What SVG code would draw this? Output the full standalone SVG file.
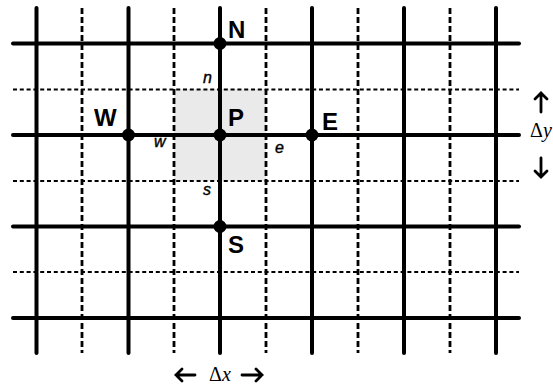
<svg xmlns="http://www.w3.org/2000/svg" width="553" height="390" viewBox="0 0 553 390">
<style>
.solid{stroke:#000;stroke-width:4;fill:none;stroke-linecap:round}
.dv{stroke:#000;stroke-width:2.8;fill:none;stroke-dasharray:6 3}
.dh{stroke:#000;stroke-width:2.2;fill:none;stroke-dasharray:4 2.8}
.big{font-family:"Liberation Sans",Arial,sans-serif;font-weight:bold;font-size:24px;fill:#000}
.face{font-family:"Liberation Sans",Arial,sans-serif;font-style:italic;font-size:16px;fill:#000;stroke:#000;stroke-width:0.4}
.delta{font-family:"Liberation Serif","Times New Roman",serif;font-size:20px;fill:#000}
.arr{stroke:#000;stroke-width:2.8;fill:none;stroke-linecap:round;stroke-linejoin:miter}
</style>
<rect x="0" y="0" width="553" height="390" fill="#fff"/>
<g id="control-volume">
<rect x="174" y="89" width="92" height="92" fill="#eaeaea"/>
</g>
<g id="connectors">
<g id="dashed-vertical">
<line class="dv" x1="82" y1="8" x2="82" y2="353"/>
<line class="dv" x1="174" y1="8" x2="174" y2="353"/>
<line class="dv" x1="266" y1="8" x2="266" y2="353"/>
<line class="dv" x1="358" y1="8" x2="358" y2="353"/>
<line class="dv" x1="450" y1="8" x2="450" y2="353"/>
</g>
<g id="dashed-horizontal">
<line class="dh" x1="13" y1="89.5" x2="519" y2="89.5"/>
<line class="dh" x1="13" y1="181" x2="519" y2="181"/>
<line class="dh" x1="13" y1="272" x2="519" y2="272"/>
</g>
<g id="solid-vertical">
<line class="solid" x1="36.5" y1="8" x2="36.5" y2="353"/>
<line class="solid" x1="128.5" y1="8" x2="128.5" y2="353"/>
<line class="solid" x1="220" y1="8" x2="220" y2="353"/>
<line class="solid" x1="312" y1="8" x2="312" y2="353"/>
<line class="solid" x1="404" y1="8" x2="404" y2="353"/>
<line class="solid" x1="496" y1="8" x2="496" y2="353"/>
</g>
<g id="solid-horizontal">
<line class="solid" x1="13" y1="43.5" x2="519" y2="43.5"/>
<line class="solid" x1="13" y1="135" x2="519" y2="135"/>
<line class="solid" x1="13" y1="226.5" x2="519" y2="226.5"/>
<line class="solid" x1="13" y1="318" x2="519" y2="318"/>
</g>
</g>
<g id="node-N"><circle cx="220" cy="43.5" r="6.5"/><text class="big" x="228" y="38">N</text></g>
<g id="node-W"><circle cx="128.5" cy="135" r="6.5"/><text class="big" x="94" y="126">W</text></g>
<g id="node-P"><circle cx="220" cy="135" r="6.5"/><text class="big" x="228" y="126">P</text></g>
<g id="node-E"><circle cx="312" cy="135" r="6.5"/><text class="big" x="322" y="130">E</text></g>
<g id="node-S"><circle cx="220" cy="226.5" r="6.5"/><text class="big" x="228" y="253">S</text></g>
<g id="face-labels">
<text class="face" x="203" y="83">n</text>
<text class="face" x="154" y="147">w</text>
<text class="face" x="275" y="153">e</text>
<text class="face" x="203" y="195">s</text>
</g>
<g id="dy">
<path class="arr" d="M541 112 V93 M535 99 L541 93 L547 99"/>
<text class="delta" x="530" y="137">Δ<tspan font-style="italic">y</tspan></text>
<path class="arr" d="M541 158 V177 M535 171 L541 177 L547 171"/>
</g>
<g id="dx">
<path class="arr" d="M195 375 H176 M182 369 L176 375 L182 381"/>
<text class="delta" x="209" y="381">Δ<tspan font-style="italic">x</tspan></text>
<path class="arr" d="M242 375 H262 M256 369 L262 375 L256 381"/>
</g>
</svg>
